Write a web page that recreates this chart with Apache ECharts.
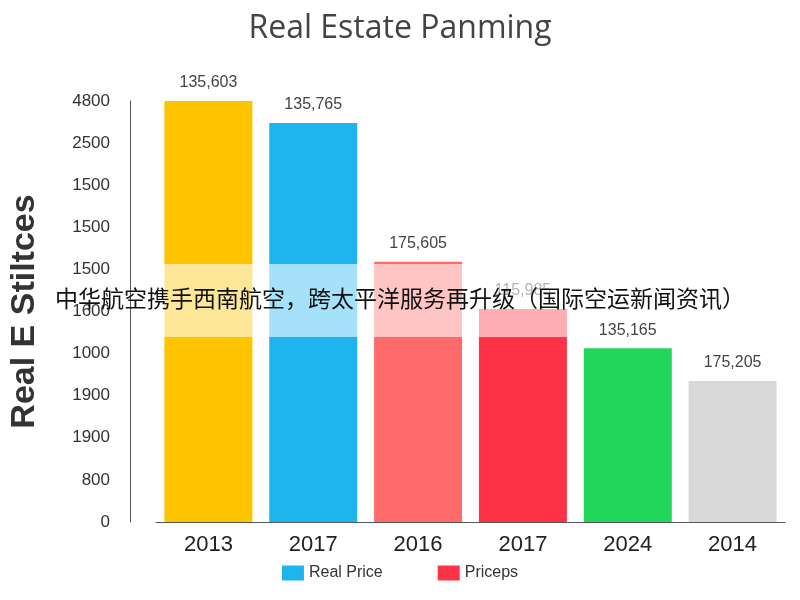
<!DOCTYPE html>
<html><head><meta charset="utf-8">
<script src="https://cdn.jsdelivr.net/npm/echarts@6/dist/echarts.min.js"></script>
<style>html,body{margin:0;padding:0;background:#fff}#c{width:800px;height:600px}</style>
</head><body><div id="c"></div>
<script>
const categories = ['2013','2017','2016','2017','2024','2014'];
const values = [10.05, 9.48, 6.18, 5.06, 4.13, 3.35];
const barLabels = ['135,603','135,765','175,605','115,985','135,165','175,205'];
const barColors = ['#FFC400','#1EB4EE','#FF6B6B','#FF3347','#22D65A','#D9D9D9'];
const tickLabels = ['0','800','1900','1900','1000','1600','1500','1500','1500','2500','4800'];
const chart = echarts.init(document.getElementById('c'));
chart.setOption({
  animation:false,
  title:{text:'Real Estate Panming',left:'center',top:8,textStyle:{fontSize:32,fontWeight:'normal',color:'#444',fontFamily:'Open Sans'}},
  legend:{bottom:14,left:'center',itemWidth:22,itemHeight:15,itemGap:55,icon:'rect',textStyle:{fontSize:16,color:'#333'},data:['Real Price','Priceps']},
  grid:{left:151,right:15,top:101,bottom:78},
  xAxis:{type:'category',data:categories,axisTick:{show:false},axisLine:{lineStyle:{color:'#555'}},
    axisLabel:{fontSize:22,color:'#222',margin:12}},
  yAxis:{type:'value',min:0,max:10,interval:1,offset:26,splitLine:{show:false},
    axisLine:{show:true,lineStyle:{color:'#555'}},
    axisLabel:{fontSize:17,color:'#333',margin:20,formatter:(v)=>tickLabels[Math.round(v)]},
    name:'Real E Stiltces',nameLocation:'middle',nameGap:88,nameRotate:90,
    nameTextStyle:{fontSize:34,fontWeight:'bold',color:'#333'}},
  series:[
    {type:'bar',barWidth:88,data:values.map((v,i)=>({value:v,itemStyle:{color:barColors[i]},
      label:{show:true,position:'top',formatter:barLabels[i],fontSize:16,color:'#444',distance:10}}))},
    {name:'Real Price',type:'line',data:[],itemStyle:{color:'#1EB4EE'}},
    {name:'Priceps',type:'line',data:[],itemStyle:{color:'#FF3347'}}
  ],
  graphic:[
    {type:'rect',shape:{x:155,y:264,width:430,height:73},style:{fill:'rgba(255,255,255,0.6)'},z:100},
    {type:'text',left:'center',top:287,style:{text:'中华航空携手西南航空，跨太平洋服务再升级（国际空运新闻资讯）',fontSize:23,fill:'#111',fontFamily:'Noto Sans CJK SC'},z:101}
  ]
});
</script></body></html>
